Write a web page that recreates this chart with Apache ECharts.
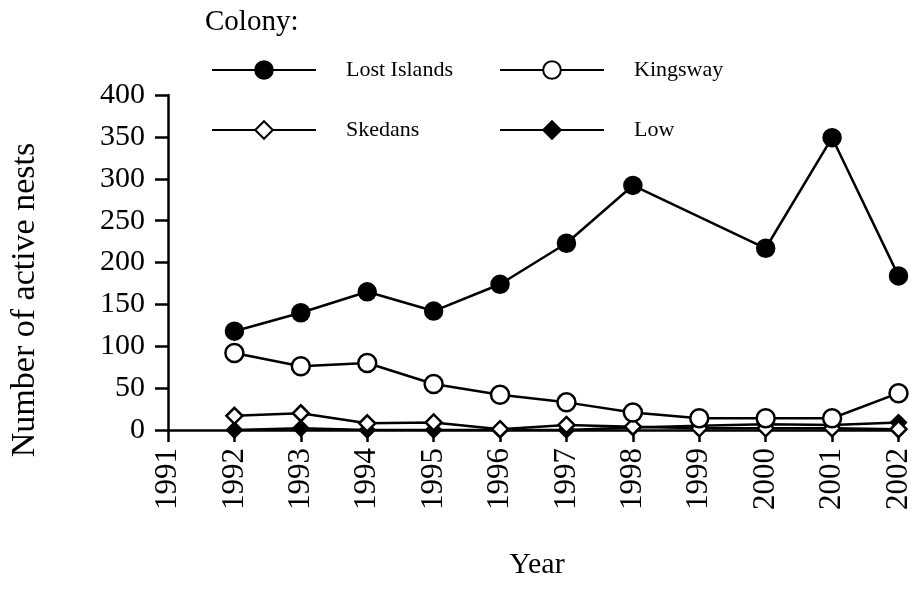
<!DOCTYPE html>
<html>
<head>
<meta charset="utf-8">
<script src="https://cdn.jsdelivr.net/npm/echarts@6/dist/echarts.min.js"></script>
<style>html,body{margin:0;padding:0;background:#fff;}#c{width:914px;height:600px;}</style>
</head>
<body>
<div id="c"></div>
<script>
var years = ['1991','1992','1993','1994','1995','1996','1997','1998','1999','2000','2001','2002'];
var lostIslands = [null, 118, 140, 165, 142, 174, 223, 292, null, 217, 349, 184];
var kingsway    = [null, 92, 76, 80, 55, 42, 33, 21, 14, 14, 14, 44];
var skedans     = [null, 17, 20, 8, 9, 1, 6, 4, 2, 2, 2, 1];
var low         = [null, 0, 2, 0, 0, 0, 0, 3, 5, 7, 6, 9];
var yTicks = [0, 50, 100, 150, 200, 250, 300, 350, 400];

var FONT = '"Liberation Serif", "Times New Roman", serif';
var chart = echarts.init(document.getElementById('c'), null, {renderer: 'canvas'});

function legendAt(name, left, top) {
  return {
    data: [name], left: left, top: top, padding: 0, orient: 'horizontal',
    itemWidth: 104, itemHeight: 22, selectedMode: false,
    textStyle: {fontFamily: FONT, fontSize: 22, color: '#000', padding: [0, 0, 0, 25]}
  };
}

var lineBase = {
  type: 'line', connectNulls: true, showSymbol: true,
  lineStyle: {color: '#000', width: 2.5},
  emphasis: {disabled: true}, animation: false
};

chart.setOption({
  backgroundColor: '#fff',
  animation: false,
  grid: {left: 168, right: 15, top: 95, bottom: 170, containLabel: false},
  legend: [
    legendAt('Lost Islands', 211, 59),
    legendAt('Kingsway', 499, 59),
    legendAt('Skedans', 211, 119),
    legendAt('Low', 499, 119)
  ],
  xAxis: {
    type: 'category', data: years, boundaryGap: false,
    axisLine: {lineStyle: {color: '#000', width: 2.5}},
    axisTick: {alignWithLabel: true, length: 12, lineStyle: {color: '#000', width: 2.5}},
    axisLabel: {rotate: 90, margin: 18, fontFamily: FONT, fontSize: 31, color: '#000', interval: 0}
  },
  yAxis: {
    type: 'value', min: 0, max: 400, interval: 50,
    splitLine: {show: false},
    axisLine: {show: true, lineStyle: {color: '#000', width: 2.5}},
    axisTick: {show: true, length: 13, lineStyle: {color: '#000', width: 2.5}},
    axisLabel: {margin: 23, fontFamily: FONT, fontSize: 30, color: '#000',
      formatter: function (v) { return yTicks.indexOf(v) >= 0 ? String(v) : ''; }}
  },
  graphic: [
    {type: 'text', left: 205, top: 8, style: {text: 'Colony:', font: '29px ' + FONT, fill: '#000'}},
    {type: 'text', x: 25, y: 300, rotation: Math.PI / 2,
      style: {text: 'Number of active nests', font: '34px ' + FONT, fill: '#000', align: 'center', verticalAlign: 'middle'}},
    {type: 'text', x: 537, y: 565,
      style: {text: 'Year', font: '30px ' + FONT, fill: '#000', align: 'center', verticalAlign: 'middle'}}
  ],
  series: [
    Object.assign({}, lineBase, {name: 'Low', data: low, symbol: 'diamond', symbolSize: 16, z: 2,
      itemStyle: {color: '#000', borderColor: '#000', borderWidth: 1.5}}),
    Object.assign({}, lineBase, {name: 'Skedans', data: skedans, symbol: 'diamond', symbolSize: 16, z: 3,
      itemStyle: {color: '#fff', borderColor: '#000', borderWidth: 2.5}}),
    Object.assign({}, lineBase, {name: 'Kingsway', data: kingsway, symbol: 'circle', symbolSize: 18, z: 4,
      itemStyle: {color: '#fff', borderColor: '#000', borderWidth: 2.5}}),
    Object.assign({}, lineBase, {name: 'Lost Islands', data: lostIslands, symbol: 'circle', symbolSize: 18, z: 5,
      itemStyle: {color: '#000', borderColor: '#000', borderWidth: 1.5}})
  ]
});
</script>
</body>
</html>
